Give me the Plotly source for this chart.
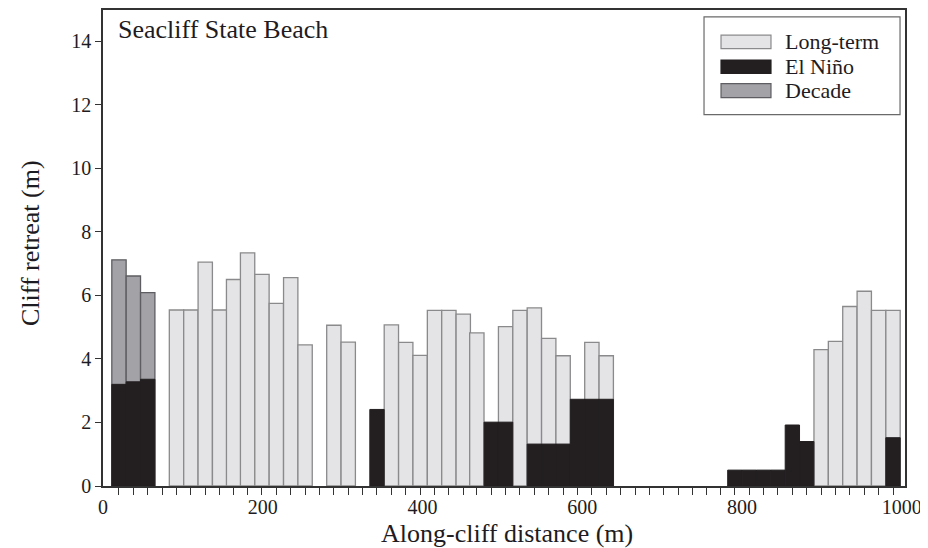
import plotly.graph_objects as go

# Along-cliff distance (m) of each measured segment (bar centres)
distance = [20, 38, 56, 74, 92, 110, 128, 146, 163.5, 181, 199, 217, 235, 253, 271,
            289, 307, 325, 343, 361, 379, 397, 415, 433, 451, 468, 486, 504, 522, 540,
            558, 576, 594, 612, 630, 648, 666, 684, 702, 720, 738, 755, 773, 791, 809,
            827, 845, 863, 881, 899, 917, 935, 953, 971, 989]

long_term = [None, None, None, None, 5.54, 5.54, 7.05, 5.54, 6.50, 7.34, 6.66, 5.75, 6.56, 4.44, None,
             5.06, 4.53, None, None, 5.07, 4.52, 4.11, 5.53, 5.53, 5.41, 4.82, None, 5.02, 5.53,
             5.61, 4.65, 4.10, None, 4.52, 4.10, None, None, None, None, None, None, None, None,
             None, None, None, None, None, None, 4.29, 4.55, 5.65, 6.13, 5.53, 5.53]

decade = [7.12, 6.61, 6.09] + [None] * 52

el_nino = [3.20, 3.28, 3.36, None, None, None, None, None, None, None, None, None, None, None, None,
           None, None, None, 2.41, None, None, None, None, None, None, None, 2.01, 2.01, None,
           1.32, 1.32, 1.32, 2.73, 2.73, 2.73, None, None, None, None, None, None, None, None,
           0.50, 0.50, 0.50, 0.50, 1.92, 1.40, None, None, None, None, None, 1.52]

x_ticks = [0, 200, 400, 600, 800, 1000]
y_ticks = [0, 2, 4, 6, 8, 10, 12, 14]
bar_w = 17.94

FONT = "Liberation Serif"
TXT = "#1e1c22"
C_LT = "#e4e4e6"
C_EN = "#231f20"
C_DE = "#a3a3a7"

fig = go.Figure()
fig.add_trace(go.Bar(x=distance, y=long_term, width=bar_w, name="Long-term",
                     marker=dict(color=C_LT, line=dict(color="#8a8a8c", width=1.3))))
fig.add_trace(go.Bar(x=distance, y=decade, width=bar_w, name="Decade",
                     marker=dict(color=C_DE, line=dict(color="#5e5e62", width=1.3))))
fig.add_trace(go.Bar(x=distance, y=el_nino, width=bar_w, name="El Niño",
                     marker=dict(color=C_EN, line=dict(color=C_EN, width=1))))
# invisible trace to carry the labelled distance axis
fig.add_trace(go.Scatter(x=[0, 1000], y=[0, 0], xaxis="x2", mode="markers",
                         marker=dict(opacity=0), hoverinfo="skip", showlegend=False))

fig.update_layout(
    width=920, height=540,
    margin=dict(l=95, r=23, t=0, b=62),
    paper_bgcolor="white", plot_bgcolor="white",
    barmode="overlay", showlegend=False,
    font=dict(family=FONT, color=TXT, size=20),
    xaxis=dict(range=[0, 1004], tickmode="array", tickvals=distance,
               ticktext=[""] * len(distance), ticks="outside", ticklen=7, tickwidth=1.2,
               tickcolor="#333", showline=True, linecolor="#333", linewidth=1.6,
               mirror=True, showgrid=False, zeroline=False, fixedrange=True),
    xaxis2=dict(range=[0, 1004], overlaying="x", side="bottom", anchor="y",
                tickmode="array", tickvals=x_ticks, ticks="outside", ticklen=3,
                tickcolor="rgba(0,0,0,0)", showline=False, showgrid=False,
                zeroline=False, tickfont=dict(size=20, family=FONT, color=TXT)),
    yaxis=dict(range=[0, 14.984], tickmode="array", tickvals=y_ticks, ticks="outside",
               ticklen=6, tickwidth=1.2, tickcolor="#333", showline=True,
               linecolor="#333", linewidth=1.6, mirror=True, showgrid=False,
               zeroline=False, tickfont=dict(size=20, family=FONT, color=TXT)),
)

ann = []
ann.append(dict(text="Seacliff State Beach", x=0.016, y=0.958, xref="paper", yref="paper",
                xanchor="left", yanchor="middle", showarrow=False,
                font=dict(size=26, family=FONT, color=TXT)))
ann.append(dict(text="Along-cliff distance (m)", x=0.5037, y=-0.1004, xref="paper", yref="paper",
                xanchor="center", yanchor="middle", showarrow=False,
                font=dict(size=26, family=FONT, color=TXT)))
ann.append(dict(text="Cliff retreat (m)", x=-0.091, y=0.5105, xref="paper", yref="paper",
                xanchor="center", yanchor="middle", showarrow=False, textangle=-90,
                font=dict(size=26, family=FONT, color=TXT)))

shapes = [dict(type="rect", xref="paper", yref="paper", x0=0.7494, x1=0.9938,
               y0=0.7803, y1=0.9854, line=dict(color="#6a6a6a", width=1.2),
               fillcolor="white", layer="above")]
legend_rows = [("Long-term", C_LT, "#8a8a8c", 0.9190, 0.9471, 0.9331),
               ("El Niño", C_EN, C_EN, 0.8667, 0.8947, 0.8808),
               ("Decade", C_DE, "#5e5e62", 0.8159, 0.8452, 0.8305)]
for name, fc, lc, y0, y1, yc in legend_rows:
    shapes.append(dict(type="rect", xref="paper", yref="paper", x0=0.7706, x1=0.8329,
                       y0=y0, y1=y1, fillcolor=fc, line=dict(color=lc, width=1.2),
                       layer="above"))
    ann.append(dict(text=name, x=0.8479, y=yc, xref="paper", yref="paper",
                    xanchor="left", yanchor="middle", showarrow=False,
                    font=dict(size=22, family=FONT, color=TXT)))

fig.update_layout(annotations=ann, shapes=shapes)
fig.write_html("out.html")
